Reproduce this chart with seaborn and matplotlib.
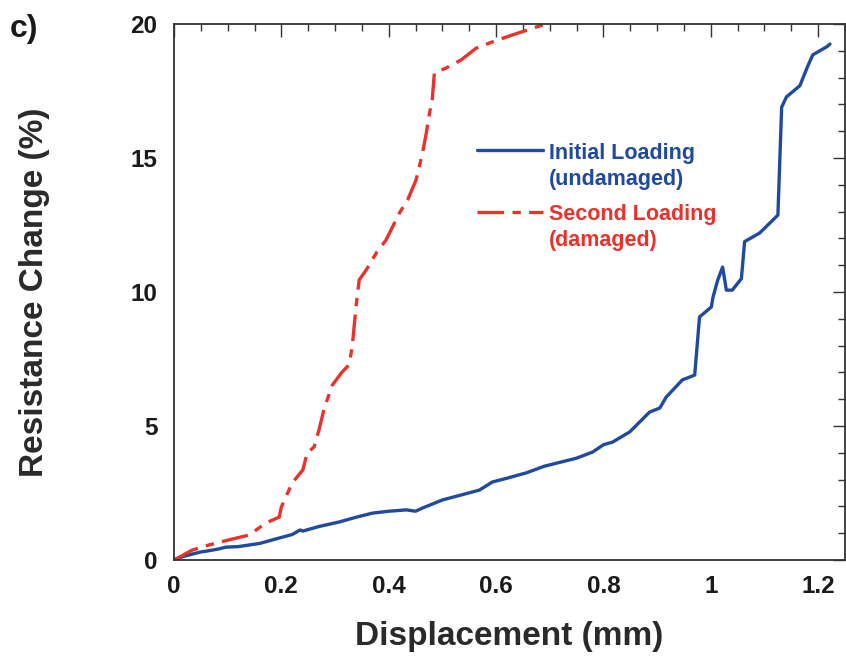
import numpy as np
import pandas as pd
import matplotlib
matplotlib.use("Agg")
import matplotlib.pyplot as plt
from matplotlib.ticker import MultipleLocator
from matplotlib.legend_handler import HandlerLine2D
import seaborn as sns

# ---- data ----
init_x = [0.0, 0.015, 0.03, 0.05, 0.06, 0.08, 0.097, 0.12, 0.14, 0.16, 0.196, 0.22, 0.235,
          0.24, 0.27, 0.308, 0.34, 0.37, 0.40, 0.433, 0.45, 0.463, 0.5, 0.53,
          0.569, 0.593, 0.62, 0.656, 0.69, 0.718, 0.75, 0.78, 0.80, 0.817, 0.849,
          0.87, 0.886, 0.905, 0.917, 0.947, 0.97, 0.979, 1.001, 1.004, 1.013,
          1.022, 1.029, 1.04, 1.057, 1.063, 1.091, 1.125, 1.132, 1.141, 1.166,
          1.18, 1.19, 1.216, 1.222]
init_y = [0.0, 0.12, 0.2, 0.3, 0.33, 0.4, 0.48, 0.5, 0.56, 0.62, 0.82, 0.95, 1.12,
          1.08, 1.25, 1.42, 1.6, 1.75, 1.82, 1.87, 1.82, 1.94, 2.24, 2.4,
          2.61, 2.91, 3.05, 3.25, 3.5, 3.64, 3.8, 4.03, 4.3, 4.4, 4.78,
          5.2, 5.52, 5.67, 6.08, 6.72, 6.9, 9.07, 9.44, 9.8, 10.45,
          10.93, 10.07, 10.07, 10.5, 11.88, 12.2, 12.87, 16.9, 17.28, 17.7,
          18.4, 18.85, 19.15, 19.25]
second_x = [0.0, 0.034, 0.065, 0.108, 0.14, 0.171, 0.196, 0.2, 0.22, 0.24, 0.248,
            0.261, 0.27, 0.28, 0.295, 0.313, 0.326, 0.332, 0.339, 0.345, 0.358,
            0.377, 0.395, 0.42, 0.435, 0.451, 0.463, 0.47, 0.476, 0.481, 0.485,
            0.507, 0.535, 0.563, 0.593, 0.63, 0.686, 0.7]
second_y = [0.0, 0.37, 0.56, 0.78, 0.93, 1.38, 1.6, 1.98, 2.87, 3.36, 3.99,
            4.22, 4.85, 5.67, 6.53, 7.01, 7.28, 7.95, 9.44, 10.45, 10.82,
            11.46, 11.94, 12.95, 13.43, 14.18, 15.19, 15.93, 16.68, 17.16, 18.17,
            18.36, 18.66, 19.1, 19.33, 19.59, 19.96, 20.05]
labels = ["Initial Loading\n(undamaged)", "Second Loading\n(damaged)"]
xticks = [0, 0.2, 0.4, 0.6, 0.8, 1, 1.2]
xticklabels = ["0", "0.2", "0.4", "0.6", "0.8", "1", "1.2"]
yticks = [0, 5, 10, 15, 20]

BLUE = "#1f4a9e"
RED = "#e8322c"
DASH = (8, 2.5, 2.5, 2.5)
LINESP = 1.3

sns.set_theme(style="white")
plt.rcParams['font.family'] = ['Liberation Sans', 'DejaVu Sans']

fig = plt.figure(figsize=(8.46, 6.57), dpi=100)
ax = fig.add_axes([174/846, 1-560/657, (845-174)/846, (560-24)/657])

df1 = pd.DataFrame({"x": init_x, "y": init_y})
df2 = pd.DataFrame({"x": second_x, "y": second_y})
sns.lineplot(data=df1, x="x", y="y", ax=ax, color=BLUE, lw=2.4, sort=False,
             estimator=None, label=labels[0])
sns.lineplot(data=df2, x="x", y="y", ax=ax, color=RED, lw=2.4, sort=False,
             estimator=None, label=labels[1])
ax.lines[1].set_dashes(DASH)

ax.set_xlim(0, 1.25)
ax.set_ylim(0, 20)
ax.set_xticks(xticks)
ax.set_xticklabels(xticklabels)
ax.set_yticks(yticks)
ax.xaxis.set_minor_locator(MultipleLocator(0.05))
ax.yaxis.set_minor_locator(MultipleLocator(1))
ax.tick_params(which="both", direction="in", top=True, right=True, color="#333333",
               width=1.0)
ax.tick_params(which="major", length=9, labelsize=17.5)
ax.tick_params(which="minor", length=5)
ax.tick_params(axis="x", which="major", pad=11)
ax.tick_params(axis="y", which="major", pad=12)
for lab in ax.get_xticklabels() + ax.get_yticklabels():
    lab.set_fontweight("bold")
    lab.set_color("#1a1a1a")
for sp in ax.spines.values():
    sp.set_color("#333333")
    sp.set_linewidth(1.3)

ax.set_xlabel("Displacement (mm)", fontsize=24, fontweight="bold", color="#2a2a2a",
              labelpad=16)
ax.set_ylabel("Resistance Change (%)", fontsize=24, fontweight="bold", color="#2a2a2a",
              labelpad=58)


class TopLineHandler(HandlerLine2D):
    def create_artists(self, legend, orig_handle, xdescent, ydescent, width,
                       height, fontsize, trans):
        arts = super().create_artists(legend, orig_handle, xdescent, ydescent,
                                      width, height, fontsize, trans)
        for a in arts:
            a.set_ydata(np.asarray(a.get_ydata()) + 0.5 * LINESP * fontsize + 2)
        return arts


handles, hlabels = ax.get_legend_handles_labels()
leg = ax.legend(handles, hlabels, loc="upper left",
                bbox_to_anchor=((477-174)/671, (560-143)/536),
                frameon=False, handlelength=3.05, handletextpad=0.28,
                labelspacing=0.68, labelcolor="linecolor", borderpad=0,
                borderaxespad=0,
                prop={"weight": "bold", "size": 15.5},
                handler_map={h: TopLineHandler() for h in handles})
for t in leg.get_texts():
    t.set_linespacing(LINESP)

fig.text(10/846, 1-37/657, "c)", fontsize=23, fontweight="bold", color="#1a1a1a")

fig.savefig("out.png", dpi=100)
